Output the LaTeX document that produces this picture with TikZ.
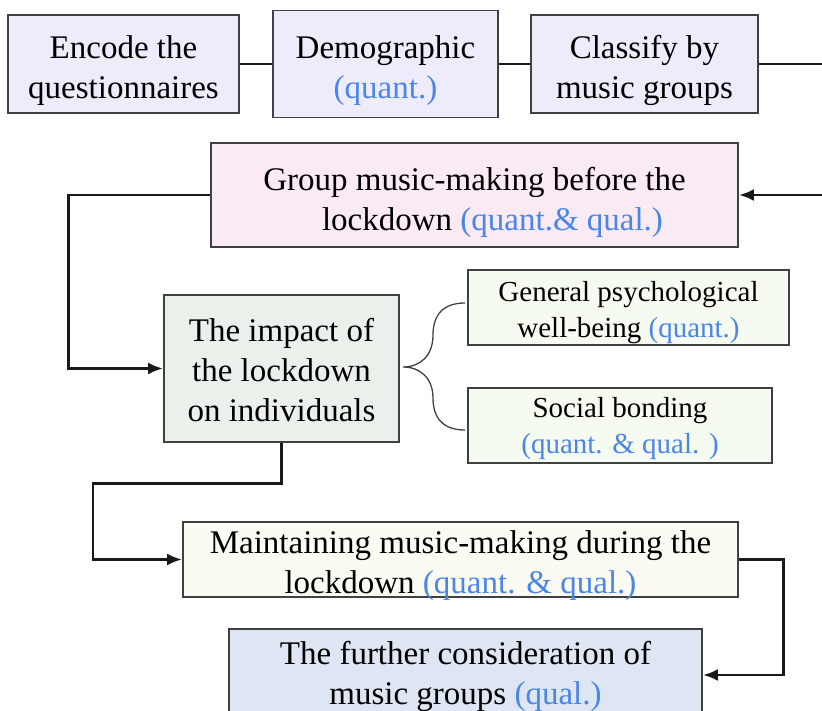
\documentclass[tikz,border=0pt]{standalone}
\usepackage{fontspec}
\setmainfont{Liberation Serif}
\usetikzlibrary{arrows.meta}

\definecolor{topfill}{RGB}{238,236,250}
\definecolor{pinkfill}{RGB}{249,234,243}
\definecolor{greyfill}{RGB}{234,241,234}
\definecolor{mintfill}{RGB}{245,251,240}
\definecolor{creamfill}{RGB}{251,250,243}
\definecolor{bluefill}{RGB}{222,229,243}
\definecolor{edgegrey}{RGB}{64,64,64}
\definecolor{notecol}{RGB}{74,134,232}

\newcommand{\note}[1]{\textcolor{notecol}{#1}}

\tikzset{
  stagebox/.style={draw=edgegrey, line width=1.7pt, inner sep=0pt},
  bigtext/.style={inner sep=0pt, align=center, font=\fontsize{33}{40}\selectfont},
  smalltext/.style={inner sep=0pt, align=center, font=\fontsize{29}{36}\selectfont},
  link/.style={line width=2.9pt, black!90},
  arr/.style={link, -{Latex[length=15pt,width=12pt]}},
  bracket/.style={line width=1.3pt, edgegrey}
}

\begin{document}
\begin{tikzpicture}[x=1pt,y=-1pt]
\useasboundingbox (0,0) rectangle (822,711);
\clip (0,0) rectangle (822,711);

% top row
\node[stagebox, fill=topfill, minimum width=231pt, minimum height=98pt] (enc) at (123.5,64) {};
\node[stagebox, fill=topfill, minimum width=225pt, minimum height=107pt] (demo) at (385.5,64) {};
\node[stagebox, fill=topfill, minimum width=227pt, minimum height=98pt] (cls) at (644.5,64) {};
\node[bigtext] (enc-t) at ([yshift=-6.5pt]enc.center) {Encode the\\questionnaires};
\node[bigtext] (demo-t) at ([yshift=-6.5pt]demo.center) {Demographic\\\note{(quant.)}};
\node[bigtext] (cls-t) at ([yshift=-6.5pt]cls.center) {Classify by\\music groups};
\coordinate (outR) at (822,64);
\coordinate (inR) at (822,195);

% stages
\node[stagebox, fill=pinkfill, minimum width=527pt, minimum height=104pt] (grp) at (474.5,195) {};
\node[bigtext] (grp-t) at ([yshift=-7pt]grp.center) {Group music-making before the\\\hspace*{36pt}lockdown \note{(quant.\& qual.)}};
\node[stagebox, fill=greyfill, minimum width=235pt, minimum height=147pt] (imp) at (281.5,368.5) {};
\node[bigtext] (imp-t) at ([yshift=-2pt]imp.center) {The impact of\\the lockdown\\on individuals};
\node[stagebox, fill=mintfill, minimum width=321pt, minimum height=75pt] (wb) at (628.5,307.5) {};
\node[smalltext] (wb-t) at ([yshift=-5pt]wb.center) {General psychological\\well-being \note{(quant.)}};
\node[stagebox, fill=mintfill, minimum width=304pt, minimum height=75pt] (soc) at (620,425.5) {};
\node[smalltext] (soc-t) at ([yshift=-3pt]soc.center) {Social bonding\\\note{(quant. \& qual. )}};
\node[stagebox, fill=creamfill, minimum width=555pt, minimum height=75pt] (mnt) at (460.5,559.5) {};
\node[bigtext] (mnt-t) at ([yshift=-6pt]mnt.center) {Maintaining music-making during the\\lockdown \note{(quant. \& qual.)}};
\node[stagebox, fill=bluefill, minimum width=473pt, minimum height=92pt] (fur) at (465.5,675) {};
\node[bigtext] (fur-t) at ([yshift=-1pt]fur.center) {The further consideration of\\music groups \note{(qual.)}};

% connectors
\draw[link] (enc.east) -- (enc.east -| demo.west);
\draw[link] (cls.west -| demo.east) -- (cls.west);
\draw[link] (cls.east) -- (outR);
\draw[arr] (inR) -- (grp.east);
\draw[arr] (grp.west) -- ++(-142,0) |- (imp.west);
\draw[arr] (imp.south) -- ++(0,41) -- ++(-188.5,0) |- (mnt.west);
\draw[arr] (mnt.east) -- ++(45,0) |- (fur.east);

% brace from the impact box to its two aspects
\coordinate (tip) at (403,367);
\coordinate (armA) at (465,303);
\coordinate (armB) at (465,430);
\draw[bracket] (armA) .. controls (443,303) and (433,315) .. (433,335)
  .. controls (433,356) and (420,367) .. (tip)
  .. controls (420,367) and (433,378) .. (433,398)
  .. controls (433,418) and (443,430) .. (armB);
\end{tikzpicture}
\end{document}
